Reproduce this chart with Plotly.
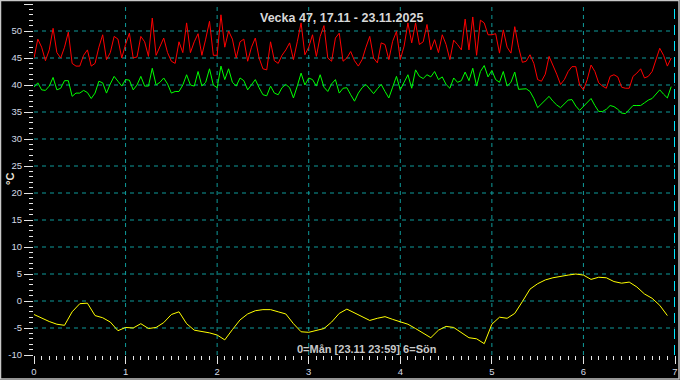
import plotly.graph_objects as go

# Hourly readings (hour 0 .. 167 of the week), degrees C
red_vals = [45, 48.5, 47, 44.5, 46.5, 50.5, 46, 45, 47, 49.8,
            44, 43.5, 43.5, 45.5, 46.5, 43.5, 44, 47, 49.3, 44.7,
            46, 49, 48.5, 45, 47.5, 49.6, 45, 45.2, 49, 48,
            45.3, 52.4, 45.5, 47, 48.7, 46, 44.4, 44, 48, 46,
            51.5, 46, 48, 49.5, 45.5, 48.5, 51.8, 45.5, 45.5, 53,
            47, 50, 48.5, 45, 48, 48.5, 44.4, 47, 48.7, 45,
            43, 42.8, 48, 44.5, 44, 45.5, 46.5, 47.8, 44.7, 48,
            51.5, 45.6, 47, 49.3, 45.3, 49, 51, 45, 44.4, 48.7,
            49.6, 44.4, 45, 46.2, 44.5, 43.5, 44.7, 47, 49, 45,
            44.1, 47.8, 47.5, 44.7, 48.1, 49.9, 44.7, 47.2, 51.5, 47.8,
            51.5, 47.5, 48, 51.2, 46.5, 48.4, 46, 49.3, 47.5, 44.7,
            48.3, 47.5, 46.5, 52.2, 46.5, 52.6, 45.5, 52, 51.5, 49.3,
            49.3, 49.5, 45.9, 50.2, 47, 45.9, 50.8, 47, 44.2, 44.4,
            45.6, 44, 41, 40.7, 42, 45.3, 43.8, 42, 40.1, 41,
            42.5, 43.4, 43.4, 40, 39.1, 41, 43.7, 42.5, 40.4, 39.8,
            39.4, 41.6, 41.9, 41.5, 39.6, 39.4, 39.4, 41.6, 42.2, 43,
            41.3, 41.6, 42.5, 44.5, 46.8, 45.5, 43.5, 45]

green_vals = [39.6, 40.4, 39.1, 39, 39.8, 41.4, 39.1, 39.4, 40.8, 40.8,
              37.9, 38.5, 38.5, 39, 38.6, 37.5, 38.5, 40.7, 40.4, 38.5,
              40.2, 41.6, 40.7, 39.8, 41, 40.9, 39.1, 40, 41.6, 39.8,
              39.8, 43.1, 40, 40.5, 41.3, 40.2, 38.5, 38.8, 38.8, 40,
              41.9, 40, 39.8, 42.5, 39.8, 40.5, 43, 40, 39.5, 43.5,
              41, 43, 40.5, 39.8, 41.3, 40.8, 39.1, 40, 41, 39.5,
              38.2, 38, 39.8, 38.5, 38.2, 39.5, 40.1, 39.5, 37.6, 39.8,
              42.2, 40, 41.3, 41, 39.8, 41.9, 39.6, 38.8, 40.2, 41,
              38.5, 39.4, 39.5, 38.2, 37, 38.5, 39.5, 40.1, 39.3, 38.4,
              39.3, 40.1, 38.8, 37.6, 39.6, 41.6, 39.1, 40.5, 41.9, 39.4,
              42.8, 41.6, 41.2, 41.9, 41.5, 42.5, 41, 41.5, 40.1, 39.4,
              41.3, 40.5, 40.8, 42.4, 40.8, 43.1, 39.8, 42.5, 43.6, 41.5,
              42.7, 41, 40.5, 42.5, 39.8, 40.5, 42.4, 39.2, 39.2, 39.3,
              38.8, 37.5, 35.8, 36.5, 37.2, 37.9, 37, 36.3, 35.8, 36.5,
              37.2, 37.3, 36.1, 35.3, 36, 36.8, 37.5, 36.2, 35.1, 35.1,
              35.5, 36.2, 36, 35.5, 34.8, 34.7, 35.5, 36.2, 36.2, 36.2,
              36.7, 37.2, 37.5, 38.3, 39.1, 38.3, 37.6, 39.7]

# Two-hourly readings (hour 0, 2, ..., 166)
yellow_vals = [-2.5, -3.2, -3.8, -4.3, -4.5, -2.0, -0.5, -0.4, -2.7, -3.1,
               -3.9, -5.5, -4.9, -5.0, -4.2, -5.1, -4.9, -4.0, -2.5, -2.0,
               -4.2, -5.4, -5.6, -5.9, -6.3, -7.2, -5.3, -3.5, -2.4, -1.8,
               -1.6, -1.6, -2.0, -2.4, -4.2, -5.7, -5.8, -5.5, -5.1, -3.9,
               -2.3, -1.5, -2.2, -2.9, -3.6, -3.2, -2.9, -3.4, -3.9, -4.3,
               -5.1, -6.0, -6.8, -5.4, -4.7, -4.9, -5.8, -6.8, -7.0, -7.9,
               -4.3, -3.0, -3.2, -2.3, -0.1, 2.2, 3.2, 3.9, 4.3, 4.6,
               4.8, 5.0, 4.8, 4.0, 4.4, 4.3, 3.6, 3.3, 3.5, 2.6,
               1.3, 0.5, -0.8, -2.7]

x_ticks = [0, 1, 2, 3, 4, 5, 6, 7]
y_ticks = [-10, -5, 0, 5, 10, 15, 20, 25, 30, 35, 40, 45, 50, 55]
y_grid = [-5, 0, 5, 10, 15, 20, 25, 30, 35, 40, 45, 50]
x_grid = [1, 2, 3, 4, 5, 6]

title_text = "Vecka 47, 17.11 - 23.11.2025"
footer_text = "0=Mån [23.11 23:59] 6=Sön"
unit_text = "°C"

x_hourly = [h / 24 for h in range(len(red_vals))]
x_2h = [2 * h / 24 for h in range(len(yellow_vals))]

fig = go.Figure()
fig.add_trace(go.Scatter(x=x_hourly, y=red_vals, mode="lines",
                         line=dict(color="#ff0000", width=1), showlegend=False))
fig.add_trace(go.Scatter(x=x_hourly, y=green_vals, mode="lines",
                         line=dict(color="#00ff00", width=1), showlegend=False))
fig.add_trace(go.Scatter(x=x_2h, y=yellow_vals, mode="lines",
                         line=dict(color="#ffff00", width=1), showlegend=False))

grid_col = "#0f9a9a"
for v in y_grid:
    fig.add_shape(type="line", xref="paper", yref="y", x0=0, x1=1, y0=v, y1=v,
                  line=dict(color=grid_col, width=1, dash="4px,4px"), layer="below")
for v in x_grid:
    fig.add_shape(type="line", xref="x", yref="paper", x0=v, x1=v, y0=0, y1=1,
                  line=dict(color=grid_col, width=1, dash="4px,4px"), layer="below")
fig.add_shape(type="line", xref="x", yref="paper", x0=7, x1=7, y0=0, y1=1,
              line=dict(color="#00e8ff", width=2, dash="10px,6px"), layer="above")

# outer frame of the picture
fig.add_shape(type="rect", xref="paper", yref="paper",
              x0=-33.5 / 641, x1=645 / 641, y0=-24 / 351, y1=354.5 / 351,
              line=dict(color="#c8c8c8", width=1.5), layer="above")

tick_font = dict(family="Liberation Sans, Arial, sans-serif", size=9.5, color="#d4dae6")

fig.update_xaxes(range=[0, 7], tickvals=x_ticks, ticktext=[str(v) for v in x_ticks],
                 showgrid=False, zeroline=False, showline=False, automargin=False,
                 ticks="outside", ticklen=8, tickcolor="#e6e6e6", tickwidth=1,
                 minor=dict(dtick=1 / 12, ticks="outside", ticklen=4,
                            tickcolor="#e6e6e6", tickwidth=1, showgrid=False),
                 tickfont=tick_font)
fig.update_yaxes(range=[-10, 55], tickvals=y_ticks, ticktext=[str(v) for v in y_ticks],
                 showgrid=False, zeroline=False, showline=False, automargin=False,
                 ticks="outside", ticklen=9, tickcolor="#e6e6e6", tickwidth=1,
                 minor=dict(dtick=1, ticks="outside", ticklen=4,
                            tickcolor="#e6e6e6", tickwidth=1, showgrid=False),
                 tickfont=tick_font)

fig.add_annotation(text="<b>" + title_text + "</b>", xref="paper", yref="paper",
                   x=307 / 641, y=337 / 351, xanchor="center", yanchor="middle",
                   showarrow=False,
                   font=dict(family="Liberation Sans, Arial, sans-serif", size=12.5, color="#d8d8d8"))
fig.add_annotation(text="<b>" + footer_text + "</b>", xref="paper", yref="paper",
                   x=332.5 / 641, y=6 / 351, xanchor="center", yanchor="middle",
                   showarrow=False,
                   font=dict(family="Liberation Sans, Arial, sans-serif", size=11, color="#c8c8c8"))
fig.add_annotation(text="<b>" + unit_text + "</b>", xref="paper", yref="paper",
                   x=-24 / 641, y=176 / 351, xanchor="center", yanchor="middle",
                   textangle=-90, showarrow=False,
                   font=dict(family="Liberation Sans, Arial, sans-serif", size=11, color="#f0e8dc"))

fig.update_layout(width=680, height=380,
                  margin=dict(l=34, r=5, t=4, b=25, autoexpand=False),
                  paper_bgcolor="#000000", plot_bgcolor="#000000",
                  showlegend=False, hovermode=False)

fig.write_html("out.html", config={"displayModeBar": False},
               post_script="document.body.style.margin='0';document.body.style.padding='0';"
                           "document.body.style.overflow='hidden';"
                           "document.body.style.background='#000';")
